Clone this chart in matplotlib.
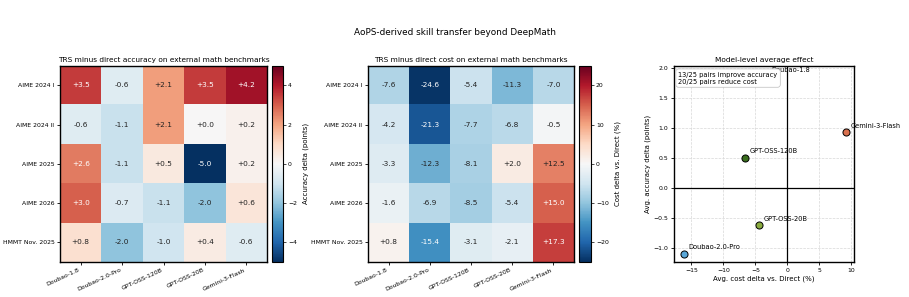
import numpy as np
import matplotlib
matplotlib.use("Agg")
import matplotlib.pyplot as plt

MODELS = ["Doubao-1.8", "Doubao-2.0-Pro", "GPT-OSS-120B", "GPT-OSS-20B", "Gemini-3-Flash"]
BENCHMARKS = ["AIME 2024 I", "AIME 2024 II", "AIME 2025", "AIME 2026", "HMMT Nov. 2025"]

# accuracy delta (points), rows = benchmarks, cols = models
ACC_DELTA = np.array([
    [3.5, -0.6, 2.1, 3.5, 4.2],
    [-0.6, -1.1, 2.1, 0.0, 0.2],
    [2.6, -1.1, 0.5, -5.0, 0.2],
    [3.0, -0.7, -1.1, -2.0, 0.6],
    [0.8, -2.0, -1.0, 0.4, -0.6],
])

# cost delta vs direct (%)
COST_DELTA = np.array([
    [-7.6, -24.6, -5.4, -11.3, -7.0],
    [-4.2, -21.3, -7.7, -6.8, -0.5],
    [-3.3, -12.3, -8.1, 2.0, 12.5],
    [-1.6, -6.9, -8.5, -5.4, 15.0],
    [0.8, -15.4, -3.1, -2.1, 17.3],
])

# model-level averages as plotted
AVG_COST = [-3.2, -16.2, -6.6, -4.5, 9.1]
AVG_ACC = [1.86, -1.10, 0.50, -0.62, 0.92]
MODEL_COLORS = ["#2a6fb0", "#5aa7d8", "#3a6e1e", "#8aab3f", "#d9704e"]

fig = plt.figure(figsize=(9.09, 2.97), dpi=100)
fig.suptitle("AoPS-derived skill transfer beyond DeepMath", fontsize=6.4, y=0.905)


def heatmap(ax_rect, cax_rect, data, vmax, title, cbar_label):
    ax = fig.add_axes(ax_rect)
    cax = fig.add_axes(cax_rect)
    im = ax.imshow(data, cmap="RdBu_r", vmin=-vmax, vmax=vmax, aspect="auto")
    for i in range(data.shape[0]):
        for j in range(data.shape[1]):
            v = data[i, j]
            col = "white" if abs(v) > 0.5 * vmax else "#222222"
            ax.text(j, i, f"{v:+.1f}", ha="center", va="center", fontsize=5.3, color=col)
    ax.set_xticks(range(len(MODELS)))
    ax.set_xticklabels(MODELS, rotation=25, ha="right", fontsize=4.4)
    ax.set_yticks(range(len(BENCHMARKS)))
    ax.set_yticklabels(BENCHMARKS, fontsize=4.4)
    ax.tick_params(length=2.5, width=0.6, pad=1.5)
    ax.set_title(title, fontsize=5.3, pad=3)
    for s in ax.spines.values():
        s.set_linewidth(1.0)
    cb = fig.colorbar(im, cax=cax)
    cb.ax.tick_params(labelsize=4.4, length=2, width=0.5, pad=1.5)
    cb.set_label(cbar_label, fontsize=5)
    cb.outline.set_linewidth(0.8)
    return ax


W, H = 909.0, 297.0
top = 1 - 65.7 / H
bot = 1 - 262 / H
heatmap([60 / W, bot, 207 / W, top - bot], [272 / W, bot, 11 / W, top - bot],
        ACC_DELTA, 5.0, "TRS minus direct accuracy on external math benchmarks",
        "Accuracy delta (points)")
heatmap([368 / W, bot, 206 / W, top - bot], [579 / W, bot, 12 / W, top - bot],
        COST_DELTA, 25.0, "TRS minus direct cost on external math benchmarks",
        "Cost delta vs. Direct (%)")

ax3 = fig.add_axes([674 / W, bot, 180 / W, top - bot])
ax3.grid(True, linestyle="--", color="#d8d8d8", linewidth=0.5)
ax3.set_axisbelow(True)
ax3.axhline(0, color="black", linewidth=0.9)
ax3.axvline(0, color="black", linewidth=0.9)
for name, x, y, c in zip(MODELS, AVG_COST, AVG_ACC, MODEL_COLORS):
    ax3.scatter(x, y, s=26, color=c, edgecolor="black", linewidth=0.7, zorder=3)
    ax3.annotate(name, (x, y), xytext=(3.5, 3), textcoords="offset points",
                 fontsize=4.8, zorder=4)
ax3.text(0.025, 0.97, "13/25 pairs improve accuracy\n20/25 pairs reduce cost",
         transform=ax3.transAxes, ha="left", va="top", fontsize=4.8, zorder=5,
         bbox=dict(boxstyle="round,pad=0.4", facecolor="white", edgecolor="#bbbbbb", linewidth=0.5))
ax3.set_xlim(-17.7, 10.4)
ax3.set_ylim(-1.24, 2.03)
ax3.set_xticks([-15, -10, -5, 0, 5, 10])
ax3.set_yticks([-1.0, -0.5, 0.0, 0.5, 1.0, 1.5, 2.0])
ax3.tick_params(labelsize=4.4, length=2.5, width=0.6, pad=1.5)
ax3.set_xlabel("Avg. cost delta vs. Direct (%)", fontsize=5, labelpad=2)
ax3.set_ylabel("Avg. accuracy delta (points)", fontsize=5, labelpad=2)
ax3.set_title("Model-level average effect", fontsize=5.3, pad=3)
for s in ax3.spines.values():
    s.set_linewidth(1.0)

fig.savefig("out.png", dpi=100)
